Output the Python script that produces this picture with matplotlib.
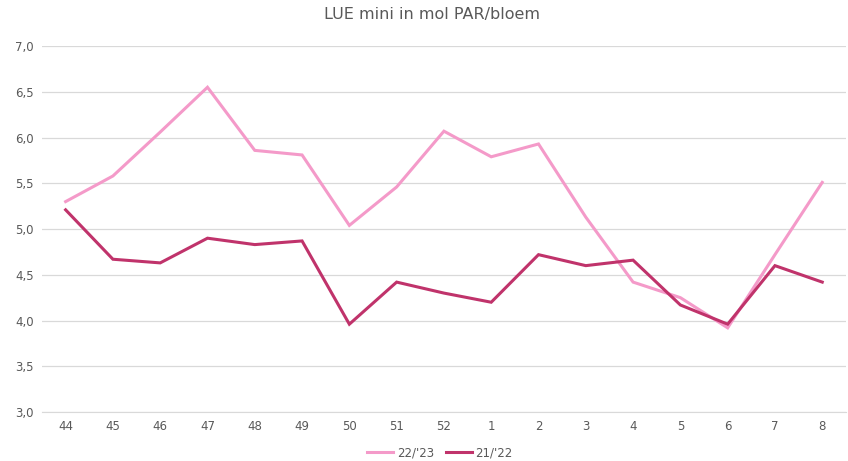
import matplotlib
matplotlib.use("Agg")
import matplotlib.pyplot as plt
from matplotlib.ticker import FuncFormatter

weeks = ["44", "45", "46", "47", "48", "49", "50", "51", "52", "1", "2", "3", "4", "5", "6", "7", "8"]
s_22_23 = [5.30, 5.58, 6.06, 6.55, 5.86, 5.81, 5.04, 5.46, 6.07, 5.79, 5.93, 5.13, 4.42, 4.25, 3.92, 4.72, 5.51]
s_21_22 = [5.21, 4.67, 4.63, 4.90, 4.83, 4.87, 3.96, 4.42, 4.30, 4.20, 4.72, 4.60, 4.66, 4.17, 3.96, 4.60, 4.42]

plt.rcParams['font.family'] = ['DejaVu Sans']
fig = plt.figure(figsize=(8.48, 4.61), dpi=100)
ax = fig.add_axes([0.0495, 0.1063, 0.948, 0.7937])

x = list(range(len(weeks)))
ax.plot(x, s_22_23, color="#F49AC9", lw=2.2, label="22/'23", solid_joinstyle="miter")
ax.plot(x, s_21_22, color="#C0336B", lw=2.2, label="21/'22", solid_joinstyle="miter")

ax.set_xlim(-0.5, len(weeks) - 0.5)
ax.set_ylim(3.0, 7.0)
ax.set_yticks([3.0, 3.5, 4.0, 4.5, 5.0, 5.5, 6.0, 6.5, 7.0])
ax.yaxis.set_major_formatter(FuncFormatter(lambda v, p: f"{v:.1f}".replace(".", ",")))
ax.set_xticks(x)
ax.set_xticklabels(weeks)
ax.grid(axis="y", color="#D9D9D9", lw=0.9)
ax.set_axisbelow(True)
for s in ["top", "right", "left"]:
    ax.spines[s].set_visible(False)
ax.spines["bottom"].set_color("#D9D9D9")
ax.tick_params(axis="both", length=0, labelsize=8.5, colors="#595959", pad=6)

fig.suptitle("LUE mini in mol PAR/bloem", x=0.51, y=0.985, fontsize=11.5, color="#595959")
leg = ax.legend(loc="upper center", bbox_to_anchor=(0.495, -0.065), ncol=2, frameon=False,
                fontsize=8.5, handlelength=2.2, columnspacing=1.0, handletextpad=0.3)
for t in leg.get_texts():
    t.set_color("#595959")

fig.savefig("out.png", dpi=100)
